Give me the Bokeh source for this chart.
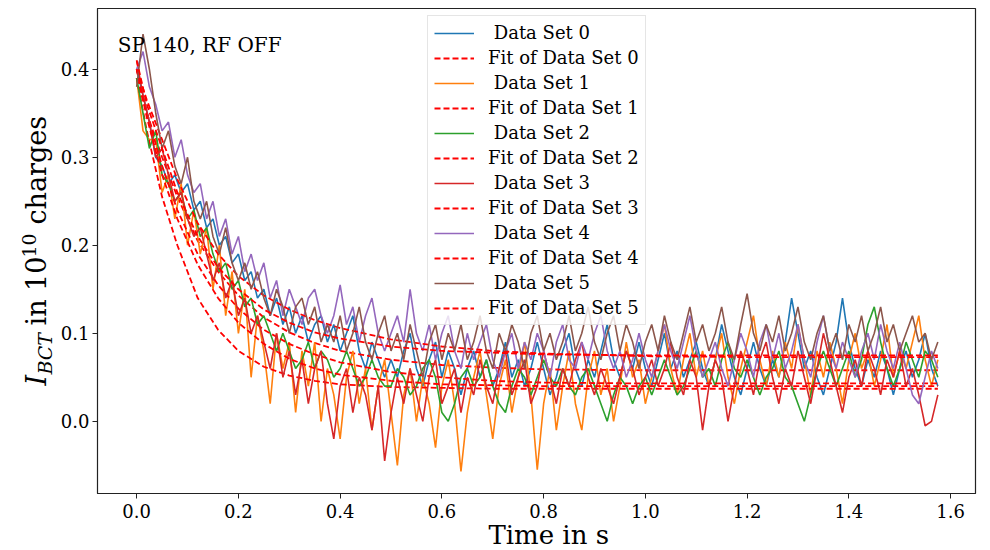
import numpy as np
from bokeh.plotting import figure
from bokeh.layouts import row, column
from bokeh.models import (Range1d, FixedTicker, PrintfTickFormatter, Label,
                          Legend, LegendItem)
from bokeh.embed import file_html
from bokeh.resources import INLINE

SERIF = "DejaVu Serif"

# ---------------- data ----------------
# sampling grid of the measured traces (s)
t_data = [round(i * 0.0125, 4) for i in range(127)]

data_set_0 = [
    0.40, 0.37, 0.34, 0.30, 0.29, 0.27, 0.28, 0.26, 0.27, 0.24,
    0.25, 0.22, 0.23, 0.20, 0.21, 0.18, 0.19, 0.16, 0.17, 0.14,
    0.15, 0.12, 0.14, 0.11, 0.13, 0.10, 0.12, 0.09, 0.11, 0.12,
    0.09, 0.11, 0.08, 0.10, 0.12, 0.08, 0.06, 0.09, 0.07, 0.05,
    0.07, 0.05, 0.08, 0.10, 0.06, 0.04, 0.07, 0.09, 0.05, 0.08,
    0.06, 0.03, 0.06, 0.08, 0.05, 0.07, 0.04, 0.06, 0.09, 0.05,
    0.07, 0.04, 0.06, 0.09, 0.06, 0.03, 0.05, 0.08, 0.10, 0.06,
    0.04, 0.07, 0.05, 0.08, 0.11, 0.07, 0.05, 0.08, 0.06, 0.09,
    0.06, 0.04, 0.07, 0.10, 0.06, 0.08, 0.05, 0.07, 0.09, 0.06,
    0.04, 0.07, 0.11, 0.08, 0.05, 0.03, 0.06, 0.09, 0.06, 0.04,
    0.07, 0.05, 0.09, 0.14, 0.10, 0.06, 0.08, 0.05, 0.03, 0.06,
    0.09, 0.14, 0.09, 0.06, 0.04, 0.07, 0.05, 0.08, 0.06, 0.03,
    0.06, 0.08, 0.05, 0.07, 0.10, 0.06, 0.04,
]
data_set_1 = [
    0.39, 0.33, 0.32, 0.32, 0.26, 0.28, 0.23, 0.27, 0.20, 0.24,
    0.19, 0.22, 0.15, 0.20, 0.12, 0.17, 0.10, 0.15, 0.05, 0.12,
    0.08, 0.02, 0.10, 0.06, 0.09, 0.01, 0.08, 0.04, 0.09, 0.00,
    0.06, 0.03, -0.02, 0.05, 0.08, 0.02, 0.06, -0.01, 0.04, 0.07,
    0.01, -0.05, 0.03, 0.06, 0.00, 0.05, 0.02, -0.03, 0.04, 0.07,
    0.02, -0.057, 0.01, 0.05, 0.08, 0.03, -0.02, 0.04, 0.07, 0.01,
    0.05, 0.09, 0.03, -0.055, 0.02, 0.06, -0.01, 0.04, 0.08, 0.02,
    -0.01, 0.05, 0.08, 0.03, 0.06, 0.00, 0.04, 0.09, 0.05, 0.07,
    0.02, 0.05, 0.08, 0.11, 0.06, 0.03, 0.07, 0.10, 0.05, 0.08,
    0.04, 0.07, 0.10, 0.05, 0.02, 0.06, 0.09, 0.12, 0.07, 0.04,
    0.08, 0.05, 0.09, 0.06, 0.11, 0.07, 0.03, 0.08, 0.05, 0.09,
    0.06, 0.02, 0.07, 0.10, 0.06, 0.08, 0.04, 0.07, 0.11, 0.05,
    0.08, 0.06, 0.09, 0.12, 0.07, 0.04, 0.07,
]
data_set_2 = [
    0.39, 0.35, 0.31, 0.33, 0.28, 0.27, 0.25, 0.26, 0.23, 0.24,
    0.21, 0.22, 0.19, 0.17, 0.18, 0.15, 0.16, 0.13, 0.14, 0.11,
    0.12, 0.10, 0.08, 0.10, 0.08, 0.06, 0.07, 0.09, 0.06, 0.08,
    0.07, 0.05, 0.06, 0.08, 0.06, 0.04, 0.05, 0.07, 0.05, 0.04,
    0.04, 0.06, 0.05, 0.03, 0.04, 0.06, 0.07, 0.05, 0.01, 0.00,
    0.02, 0.05, 0.06, 0.04, 0.05, 0.07, 0.04, 0.02, 0.01, 0.04,
    0.06, 0.05, 0.03, 0.05, 0.07, 0.05, 0.04, 0.06, 0.04, 0.03,
    0.05, 0.06, 0.04, 0.02, 0.00, 0.03, 0.05, 0.04, 0.02, 0.04,
    0.05, 0.03, 0.05, 0.07, 0.05, 0.03, 0.04, 0.06, 0.08, 0.05,
    0.06, 0.04, 0.07, 0.09, 0.06, 0.05, 0.07, 0.05, 0.03, 0.05,
    0.06, 0.08, 0.05, 0.04, 0.02, 0.00, 0.03, 0.06, 0.08, 0.06,
    0.04, 0.06, 0.08, 0.05, 0.07, 0.11, 0.13, 0.09, 0.06, 0.04,
    0.06, 0.09, 0.07, 0.05, 0.08, 0.07, 0.05,
]
data_set_3 = [
    0.41, 0.37, 0.34, 0.30, 0.31, 0.28, 0.25, 0.26, 0.23, 0.21,
    0.22, 0.19, 0.16, 0.18, 0.14, 0.16, 0.12, 0.14, 0.10, 0.12,
    0.09, 0.06, 0.10, 0.05, 0.08, 0.03, 0.07, 0.02, 0.06, 0.08,
    0.02, -0.02, 0.04, 0.06, 0.01, 0.05, 0.03, -0.01, 0.04, -0.045,
    0.01, 0.05, 0.02, 0.06, 0.03, 0.00, 0.05, 0.07, 0.02, 0.04,
    0.06, 0.01, 0.05, 0.03, 0.07, 0.04, 0.02, 0.06, 0.08, 0.03,
    0.05, 0.07, 0.02, 0.04, 0.08, 0.05, 0.02, 0.06, 0.04, 0.07,
    0.09, 0.05, 0.03, 0.06, 0.04, 0.02, 0.05, 0.08, 0.06, 0.03,
    0.05, 0.07, 0.04, 0.06, 0.09, 0.05, 0.03, 0.07, 0.05, -0.01,
    0.04, 0.07, 0.05, 0.00, 0.04, 0.08, 0.06, 0.03, 0.07, 0.09,
    0.05, 0.02, 0.06, 0.04, 0.08, 0.05, 0.02, 0.06, 0.10, 0.07,
    0.04, 0.01, 0.05, 0.07, 0.04, 0.08, 0.06, 0.03, 0.07, 0.05,
    0.08, 0.04, 0.06, 0.03, -0.005, 0.00, 0.03,
]
data_set_4 = [
    0.40, 0.42, 0.38, 0.36, 0.33, 0.34, 0.30, 0.32, 0.28, 0.26,
    0.27, 0.23, 0.25, 0.21, 0.23, 0.19, 0.21, 0.17, 0.19, 0.16,
    0.18, 0.14, 0.16, 0.12, 0.15, 0.13, 0.11, 0.14, 0.15, 0.12,
    0.10, 0.12, 0.155, 0.11, 0.13, 0.09, 0.12, 0.14, 0.10, 0.08,
    0.10, 0.12, 0.09, 0.15, 0.10, 0.08, 0.11, 0.07, 0.10, 0.12,
    0.08, 0.06, 0.10, 0.07, 0.09, 0.11, 0.07, 0.05, 0.08, 0.10,
    0.06, 0.09, 0.07, 0.10, 0.08, 0.05, 0.09, 0.11, 0.07, 0.06,
    0.09, 0.07, 0.10, 0.12, 0.08, 0.06, 0.08, 0.05, 0.07, 0.10,
    0.07, 0.05, 0.08, 0.11, 0.08, 0.06, 0.09, 0.12, 0.08, 0.05,
    0.07, 0.09, 0.06, 0.04, 0.07, 0.10, 0.08, 0.05, 0.09, 0.11,
    0.07, 0.10, 0.06, 0.08, 0.11, 0.07, 0.05, 0.09, 0.12, 0.08,
    0.06, 0.09, 0.07, 0.05, 0.08, 0.10, 0.07, 0.11, 0.08, 0.06,
    0.09, 0.06, 0.03, 0.02, 0.05, 0.08, 0.06,
]
data_set_5 = [
    0.38, 0.44, 0.40, 0.35, 0.31, 0.33, 0.29, 0.27, 0.30, 0.25,
    0.23, 0.25, 0.21, 0.19, 0.22, 0.18, 0.16, 0.18, 0.15, 0.17,
    0.14, 0.12, 0.15, 0.13, 0.10, 0.13, 0.14, 0.11, 0.13, 0.09,
    0.11, 0.09, 0.12, 0.08, 0.10, 0.13, 0.09, 0.07, 0.10, 0.12,
    0.08, 0.10, 0.07, 0.11, 0.08, 0.05, 0.09, 0.11, 0.07, 0.10,
    0.08, 0.11, 0.07, 0.09, 0.12, 0.08, 0.06, 0.10, 0.08, 0.11,
    0.09, 0.06, 0.10, 0.12, 0.08, 0.10, 0.07, 0.09, 0.12, 0.08,
    0.10, 0.13, 0.09, 0.07, 0.10, 0.12, 0.08, 0.11, 0.09, 0.06,
    0.09, 0.11, 0.08, 0.12, 0.09, 0.07, 0.10, 0.13, 0.09, 0.11,
    0.08, 0.10, 0.13, 0.09, 0.07, 0.11, 0.145, 0.10, 0.08, 0.11,
    0.09, 0.12, 0.08, 0.10, 0.13, 0.09, 0.07, 0.10, 0.12, 0.08,
    0.10, 0.07, 0.11, 0.09, 0.12, 0.08, 0.10, 0.13, 0.09, 0.11,
    0.08, 0.10, 0.12, 0.09, 0.10, 0.07, 0.09,
]

# fitted curves, sampled at these times (s)
t_fit = [0, 0.02, 0.05, 0.08, 0.12, 0.16, 0.2, 0.25, 0.3, 0.35, 0.4,
         0.5, 0.6, 0.7, 0.8, 1.0, 1.2, 1.4, 1.575]
fit_0 = [0.390, 0.350, 0.300, 0.255, 0.205, 0.170, 0.143, 0.118, 0.101, 0.089,
         0.080, 0.070, 0.064, 0.061, 0.059, 0.058, 0.058, 0.058, 0.058]
fit_1 = [0.390, 0.330, 0.255, 0.200, 0.140, 0.104, 0.080, 0.062, 0.052, 0.046,
         0.042, 0.039, 0.038, 0.037, 0.037, 0.037, 0.037, 0.037, 0.037]
fit_2 = [0.400, 0.350, 0.290, 0.240, 0.190, 0.155, 0.128, 0.104, 0.088, 0.076,
         0.067, 0.056, 0.050, 0.046, 0.044, 0.043, 0.043, 0.043, 0.043]
fit_3 = [0.400, 0.345, 0.280, 0.230, 0.178, 0.140, 0.112, 0.088, 0.071, 0.060,
         0.053, 0.046, 0.042, 0.041, 0.040, 0.040, 0.040, 0.040, 0.040]
fit_4 = [0.400, 0.365, 0.320, 0.275, 0.225, 0.190, 0.165, 0.143, 0.127, 0.115,
         0.106, 0.093, 0.085, 0.080, 0.077, 0.074, 0.073, 0.073, 0.073]
fit_5 = [0.410, 0.360, 0.310, 0.260, 0.210, 0.175, 0.150, 0.127, 0.112, 0.101,
         0.094, 0.085, 0.080, 0.078, 0.076, 0.075, 0.075, 0.075, 0.075]

data_labels = ["\u00a0Data Set 0", "\u00a0Data Set 1", "\u00a0Data Set 2",
               "\u00a0Data Set 3", "\u00a0Data Set 4", "\u00a0Data Set 5"]
fit_labels = ["Fit of Data Set 0", "Fit of Data Set 1", "Fit of Data Set 2",
              "Fit of Data Set 3", "Fit of Data Set 4", "Fit of Data Set 5"]
x_ticks = [0.0, 0.2, 0.4, 0.6, 0.8, 1.0, 1.2, 1.4, 1.6]
y_ticks = [0.0, 0.1, 0.2, 0.3, 0.4]
annotation_text = "SP 140, RF OFF"
x_label = "Time in s"

colors = ["#1f77b4", "#ff7f0e", "#2ca02c", "#d62728", "#9467bd", "#8c564b"]
data_sets = [data_set_0, data_set_1, data_set_2, data_set_3, data_set_4, data_set_5]
fits = [fit_0, fit_1, fit_2, fit_3, fit_4, fit_5]

LEFT_W = 56      # strip holding the y-axis label
BOTTOM_H = 30    # strip holding the x-axis label
MAIN_W = 990 - LEFT_W
MAIN_H = 550 - BOTTOM_H

# ---------------- main figure ----------------
p = figure(width=MAIN_W, height=MAIN_H, output_backend="svg", toolbar_location=None,
           title=None,
           x_range=Range1d(-0.077, 1.649), y_range=Range1d(-0.082, 0.469),
           min_border_left=97 - LEFT_W, min_border_right=15, min_border_top=8,
           min_border_bottom=MAIN_H - 493)
p.background_fill_color = "white"
p.border_fill_color = "white"
p.xgrid.visible = False
p.ygrid.visible = False
p.outline_line_color = "#222222"
p.outline_line_width = 1.2

for ax in (p.xaxis[0], p.yaxis[0]):
    ax.major_label_text_font = SERIF
    ax.major_label_text_font_size = "18px"
    ax.major_label_text_color = "black"
    ax.minor_tick_line_color = None
    ax.major_tick_in = 0
    ax.major_tick_out = 5
    ax.major_tick_line_color = "#222222"
    ax.axis_line_color = "#222222"
    ax.formatter = PrintfTickFormatter(format="%.1f")
p.xaxis.major_label_standoff = 5
p.yaxis.major_label_standoff = 3
p.xaxis.ticker = FixedTicker(ticks=x_ticks)
p.yaxis.ticker = FixedTicker(ticks=y_ticks)

items = []
for i in range(6):
    rd = p.line(t_data, data_sets[i], line_color=colors[i], line_width=1.6)
    rf = p.line(t_fit, fits[i], line_color="red", line_width=1.8, line_dash="6 3")
    items.append(LegendItem(label=data_labels[i], renderers=[rd]))
    items.append(LegendItem(label=fit_labels[i], renderers=[rf]))

legend = Legend(items=items, location=(330, 168),
                label_text_font=SERIF, label_text_font_size="18px",
                label_text_color="black",
                glyph_width=40, glyph_height=20, label_height=20,
                spacing=4, padding=6, margin=0, label_standoff=14,
                background_fill_color="white", background_fill_alpha=0.8,
                border_line_color="#cccccc", border_line_width=1)
p.add_layout(legend)

p.add_layout(Label(x=-0.0373, y=0.427, text=annotation_text,
                   text_font=SERIF, text_font_size="20px",
                   text_align="left", text_baseline="alphabetic",
                   text_color="black"))

# ---------------- left strip: y-axis label  I_BCT in 10^10 charges ----------------
yl = figure(width=LEFT_W, height=550, output_backend="svg", toolbar_location=None,
            title=None,
            x_range=Range1d(0, LEFT_W), y_range=Range1d(550, 0),
            x_axis_location=None, y_axis_location=None,
            min_border=0, outline_line_color=None)
yl.xgrid.visible = False
yl.ygrid.visible = False
yl.border_fill_color = "white"
yl.background_fill_color = "white"
ang = np.pi / 2
ylab_parts = [
    # text, x, y (pixels in the strip), size, style
    ("I", 36, 385, "27px", "italic"),
    ("BCT", 44, 374, "19px", "italic"),
    ("in 10", 36, 325, "27px", "normal"),
    ("10", 28, 257, "19px", "normal"),
    ("charges", 36, 224, "27px", "normal"),
]
for txt, xx, yy, sz, st in ylab_parts:
    yl.add_layout(Label(x=xx, y=yy, text=txt, angle=ang,
                        text_font=SERIF, text_font_size=sz, text_font_style=st,
                        text_align="left", text_baseline="alphabetic",
                        text_color="black"))

# ---------------- bottom strip: x-axis label ----------------
xl = figure(width=MAIN_W, height=BOTTOM_H, output_backend="svg", toolbar_location=None,
            title=None,
            x_range=Range1d(0, MAIN_W), y_range=Range1d(BOTTOM_H, 0),
            x_axis_location=None, y_axis_location=None,
            min_border=0, outline_line_color=None)
xl.xgrid.visible = False
xl.ygrid.visible = False
xl.border_fill_color = "white"
xl.background_fill_color = "white"
xl.add_layout(Label(x=536 - LEFT_W, y=534 - MAIN_H, text=x_label,
                    text_font=SERIF, text_font_size="26px",
                    text_align="center", text_baseline="alphabetic",
                    text_color="black"))

layout = row(yl, column(p, xl, spacing=0), spacing=0)
open("out.html", "w").write(file_html(layout, INLINE))
